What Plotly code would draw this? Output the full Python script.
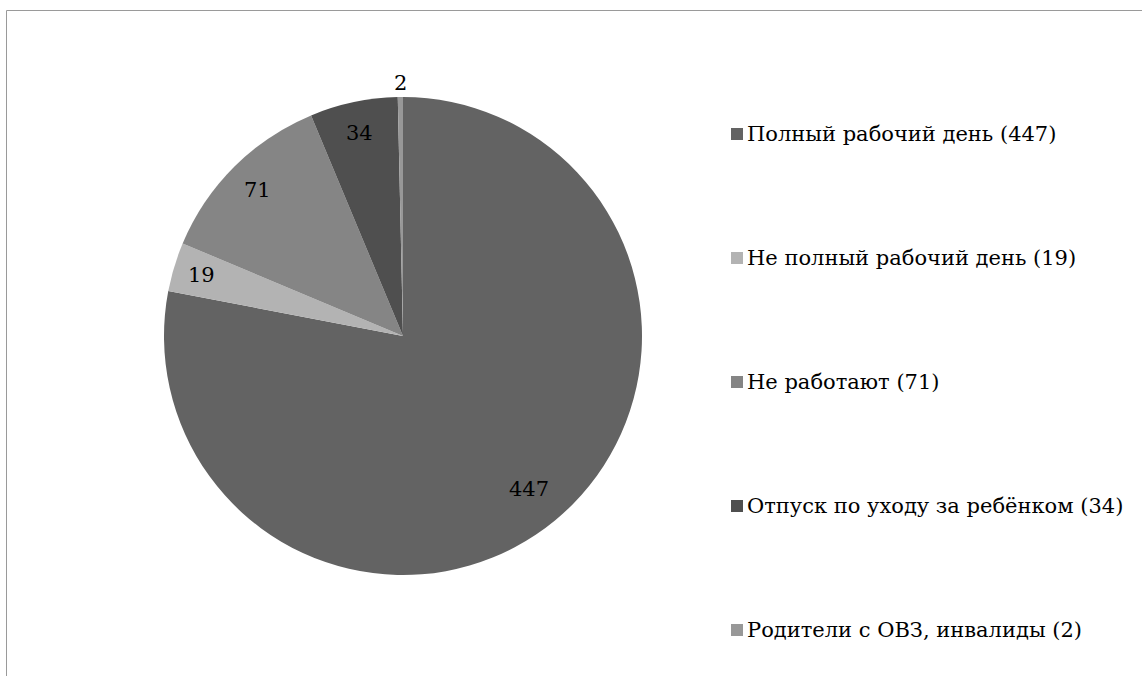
import math
import plotly.graph_objects as go

categories = ["Полный рабочий день", "Не полный рабочий день", "Не работают",
              "Отпуск по уходу за ребёнком", "Родители с ОВЗ, инвалиды"]
values = [447, 19, 71, 34, 2]
colors = ["#636363", "#b3b3b3", "#858585", "#4f4f4f", "#989898"]
label_radius = [0.83, 0.88, 0.86, 0.87, 1.06]

W, H = 1142, 676
cx, cy, R = 403, 336, 239

fig = go.Figure(go.Pie(
    labels=categories, values=values, sort=False, direction="clockwise",
    rotation=0, marker=dict(colors=colors, line=dict(width=0)),
    textinfo="none", hoverinfo="label+value", showlegend=False,
    domain=dict(x=[(cx - R) / W, (cx + R) / W], y=[1 - (cy + R) / H, 1 - (cy - R) / H]),
))

font = dict(family="DejaVu Serif", size=21, color="#000000")
annotations = []
total = sum(values)
cum = 0
for v, r in zip(values, label_radius):
    mid = (cum + v / 2) / total * 2 * math.pi
    cum += v
    px = cx + r * R * math.sin(mid)
    py = cy - r * R * math.cos(mid)
    annotations.append(dict(x=px / W, y=1 - py / H, xref="paper", yref="paper",
                            text=str(v), showarrow=False, font=font,
                            xanchor="center", yanchor="middle"))

shapes = [dict(type="rect", xref="paper", yref="paper",
               x0=6.5 / W, x1=1.05, y0=-0.05, y1=1 - 10.5 / H,
               line=dict(color="#9a9a9a", width=1), fillcolor="rgba(0,0,0,0)")]

leg_y0, leg_dy = 134, 124
for i, (c, v, col) in enumerate(zip(categories, values, colors)):
    yy = leg_y0 + i * leg_dy
    shapes.append(dict(type="rect", xref="paper", yref="paper",
                       x0=731 / W, x1=743 / W, y0=1 - (yy + 6) / H, y1=1 - (yy - 6) / H,
                       line=dict(width=0), fillcolor=col))
    annotations.append(dict(x=745 / W, y=1 - yy / H, xref="paper", yref="paper",
                            text=f"{c} ({v})", showarrow=False, font=font,
                            xanchor="left", yanchor="middle"))

fig.update_layout(width=W, height=H, margin=dict(l=0, r=0, t=0, b=0),
                  paper_bgcolor="white", plot_bgcolor="white",
                  font=dict(family="DejaVu Serif"),
                  annotations=annotations, shapes=shapes)
fig.write_html("out.html", config={"displayModeBar": False},
               post_script="document.body.style.margin='0';document.body.style.overflow='hidden';")
